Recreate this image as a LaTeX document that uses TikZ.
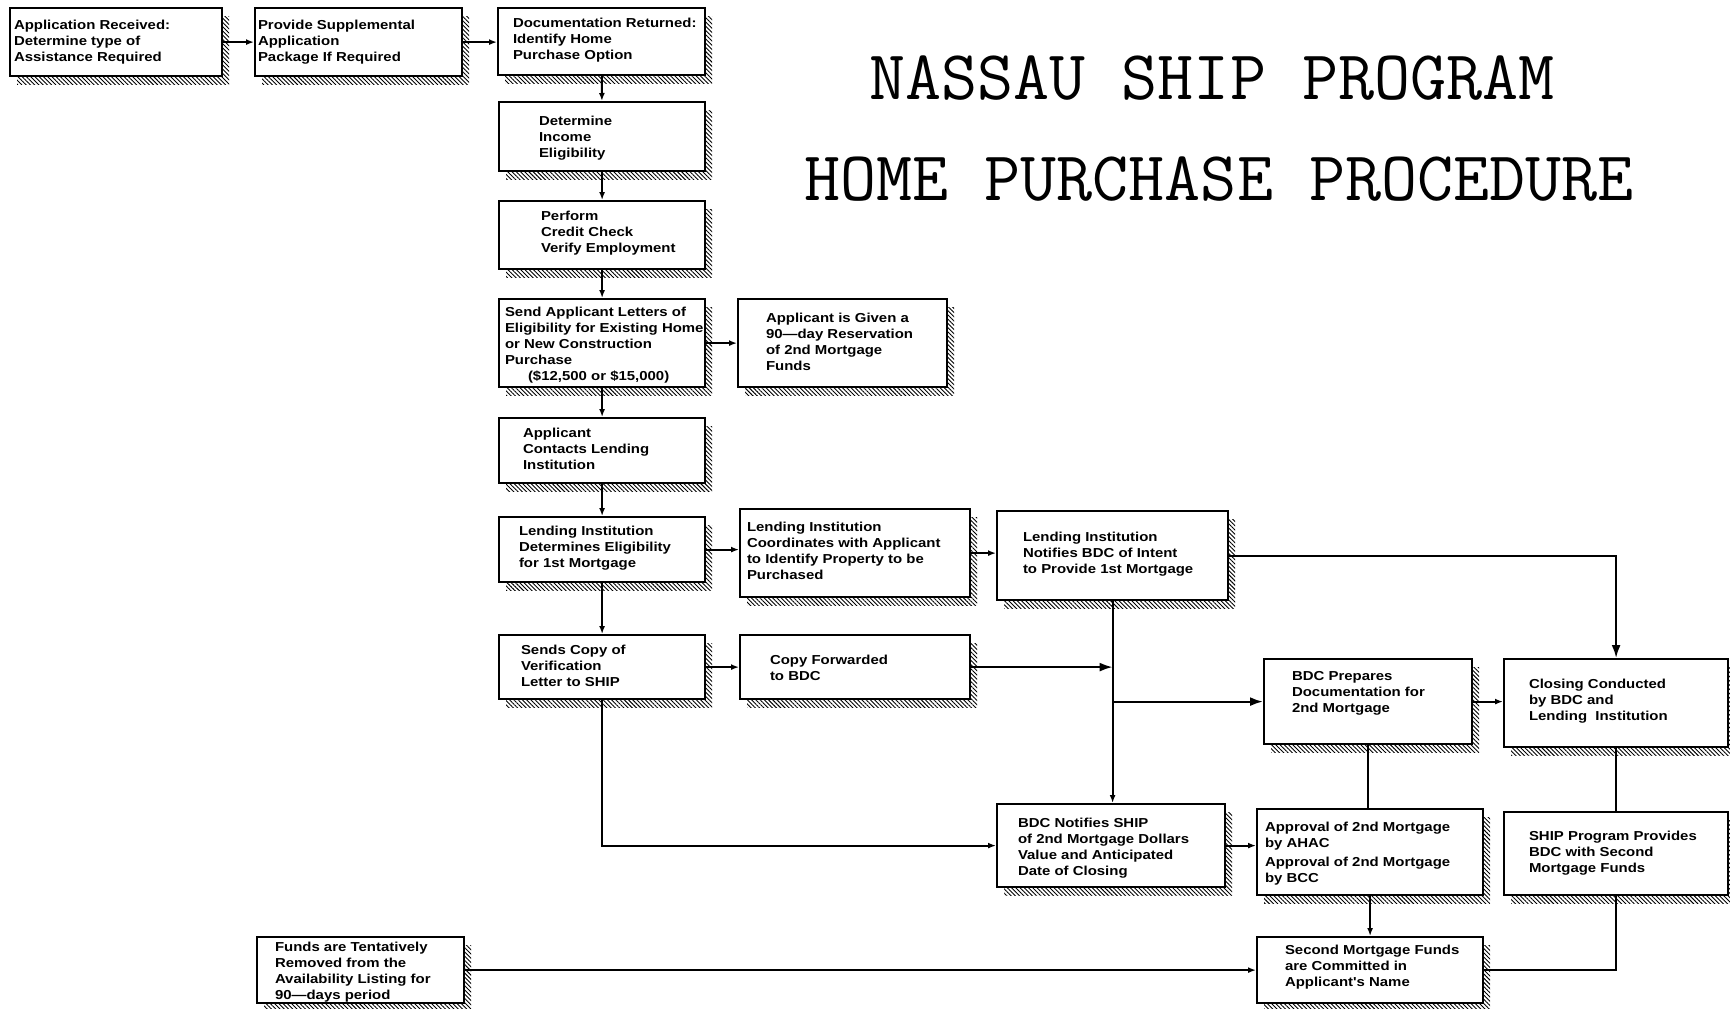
\documentclass[tikz,border=0pt]{standalone}
\usepackage{fontspec}
\newfontfamily\chartfont[FakeStretch=1.15]{Liberation Sans}
\usetikzlibrary{arrows.meta,patterns.meta}

\begin{document}
\begin{tikzpicture}[x=1pt,y=-1pt,line width=2pt,
  box/.style={draw,line width=2.2pt,fill=white,anchor=north west,inner sep=0pt,
    preaction={draw=none,fill=none,pattern={Lines[angle=-45,distance=3pt,line width=0.9pt]},
      transform canvas={shift={(7pt,-8pt)}}}},
  txt/.style={anchor=north west,inner sep=0pt,align=left,
    font=\chartfont\bfseries\fontsize{13}{16}\selectfont},
  ttl/.style={font=\ttfamily\fontsize{70}{80}\selectfont},
  >={Latex[length=8pt,width=6pt]},
  big/.style={-{Latex[length=13pt,width=9pt]}}]
\useasboundingbox (0,0) rectangle (1730,1009);

\node[ttl] (title1) at (1212,78) {NASSAU SHIP PROGRAM};
\node[ttl] (title2) at (1219,179) {HOME PURCHASE PROCEDURE};

\node[box,minimum width=212,minimum height=68] (app) at (9,7) {};
\node[txt] at ([shift={(4,12)}]app.north west) {Application Received:\\Determine type of\\Assistance Required};
\node[box,minimum width=207,minimum height=68] (supp) at (254,7) {};
\node[txt] at ([shift={(3,12)}]supp.north west) {Provide Supplemental\\Application\\Package If Required};
\node[box,minimum width=207,minimum height=67] (docs) at (497,7) {};
\node[txt] at ([shift={(15,10)}]docs.north west) {Documentation Returned:\\Identify Home\\Purchase Option};
\node[box,minimum width=206,minimum height=69] (income) at (498,101) {};
\node[txt] at ([shift={(40,14)}]income.north west) {Determine\\Income\\Eligibility};
\node[box,minimum width=206,minimum height=68] (credit) at (498,200) {};
\node[txt] at ([shift={(42,10)}]credit.north west) {Perform\\Credit Check\\Verify Employment};
\node[box,minimum width=206,minimum height=88] (letters) at (498,298) {};
\node[txt] at ([shift={(6,8)}]letters.north west) {Send Applicant Letters of\\Eligibility for Existing Home\\or New Construction\\Purchase\\\hspace{23pt}(\$12,500 or \$15,000)};
\node[box,minimum width=209,minimum height=88] (reserve) at (737,298) {};
\node[txt] at ([shift={(28,14)}]reserve.north west) {Applicant is Given a\\90—day Reservation\\of 2nd Mortgage\\Funds};
\node[box,minimum width=206,minimum height=65] (contact) at (498,417) {};
\node[txt] at ([shift={(24,10)}]contact.north west) {Applicant\\Contacts Lending\\Institution};
\node[box,minimum width=206,minimum height=65] (elig) at (498,516) {};
\node[txt] at ([shift={(20,9)}]elig.north west) {Lending Institution\\Determines Eligibility\\for 1st Mortgage};
\node[box,minimum width=230,minimum height=88] (coord) at (739,508) {};
\node[txt] at ([shift={(7,13)}]coord.north west) {Lending Institution\\Coordinates with Applicant\\to Identify Property to be\\Purchased};
\node[box,minimum width=231,minimum height=89] (intent) at (996,510) {};
\node[txt] at ([shift={(26,21)}]intent.north west) {Lending Institution\\Notifies BDC of Intent\\to Provide 1st Mortgage};
\node[box,minimum width=206,minimum height=64] (verif) at (498,634) {};
\node[txt] at ([shift={(22,10)}]verif.north west) {Sends Copy of\\Verification\\Letter to SHIP};
\node[box,minimum width=230,minimum height=64] (fwd) at (739,634) {};
\node[txt] at ([shift={(30,20)}]fwd.north west) {Copy Forwarded\\to BDC};
\node[box,minimum width=208,minimum height=85] (prep) at (1263,658) {};
\node[txt] at ([shift={(28,12)}]prep.north west) {BDC Prepares\\Documentation for\\2nd Mortgage};
\node[box,minimum width=224,minimum height=88] (closing) at (1503,658) {};
\node[txt] at ([shift={(25,20)}]closing.north west) {Closing Conducted\\by BDC and\\Lending~~Institution};
\node[box,minimum width=228,minimum height=83] (notify) at (996,803) {};
\node[txt] at ([shift={(21,14)}]notify.north west) {BDC Notifies SHIP\\of 2nd Mortgage Dollars\\Value and Anticipated\\Date of Closing};
\node[box,minimum width=226,minimum height=86] (approval) at (1256,808) {};
\node[txt] at ([shift={(8,13)}]approval.north west) {Approval of 2nd Mortgage\\by AHAC\\[3pt]Approval of 2nd Mortgage\\by BCC};
\node[box,minimum width=224,minimum height=83] (funds) at (1503,811) {};
\node[txt] at ([shift={(25,19)}]funds.north west) {SHIP Program Provides\\BDC with Second\\Mortgage Funds};
\node[box,minimum width=226,minimum height=66] (commit) at (1256,936) {};
\node[txt] at ([shift={(28,8)}]commit.north west) {Second Mortgage Funds\\are Committed in\\Applicant's Name};
\node[box,minimum width=207,minimum height=66] (removed) at (256,936) {};
\node[txt] at ([shift={(18,5)}]removed.north west) {Funds are Tentatively\\Removed from the\\Availability Listing for\\90—days period};

\draw[->] (app) -- (supp);
\draw[->] (supp.east) -- (supp.east -| docs.west);
\draw[->] (docs) -- (income);
\draw[->] (income) -- (credit);
\draw[->] (credit) -- (letters);
\draw[->] (letters) -- (reserve);
\draw[->] (letters) -- (contact);
\draw[->] (contact) -- (elig);
\draw[->] (elig.east) -- (elig.east -| coord.west);
\draw[->] (coord.east) -- (coord.east -| intent.west);
\draw[->] (elig) -- (verif);
\draw[->] (verif) -- (fwd);
\draw[big] (fwd.east) -- (fwd.east -| intent.south);
\draw[->] (intent.south) -- (intent.south |- notify.north);
\draw[big] (intent.south |- prep.west) -- (prep.west);
\draw[big] (intent.east) -| (closing.north);
\draw[->] (prep.east) -- (prep.east -| closing.west);
\draw (prep.south) -- (prep.south |- approval.north);
\draw (closing) -- (funds);
\draw[->] (verif.south) |- (notify.west);
\draw[->] (notify.east) -- (notify.east -| approval.west);
\draw[->] (approval) -- (commit);
\draw (funds.south) |- (commit.east);
\draw[->] (removed) -- (commit);
\end{tikzpicture}
\end{document}
